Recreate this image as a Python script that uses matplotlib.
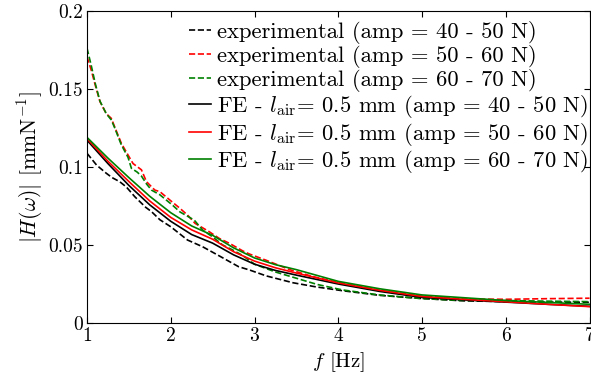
import numpy as np
import matplotlib
matplotlib.use("Agg")
import matplotlib.pyplot as plt

plt.rcParams['font.family'] = 'serif'
plt.rcParams['font.serif'] = ['cmr10']
plt.rcParams['mathtext.fontset'] = 'cm'
plt.rcParams['axes.unicode_minus'] = False

# experimental curves (frequency in Hz, |H| in mm/N)
f_exp_4050 = [1.0, 1.115, 1.23, 1.3, 1.39, 1.47, 1.57, 1.7, 1.77, 1.87, 2.0, 2.2, 2.38,
              2.58, 2.81, 2.94, 3.14, 3.46, 3.73, 4.05, 4.5, 5.0, 5.5, 6.0, 6.5, 7.0]
h_exp_4050 = [0.1086, 0.101, 0.0958, 0.093, 0.0904, 0.087, 0.0808, 0.074, 0.0712, 0.066,
              0.0615, 0.053, 0.0487, 0.0428, 0.0359, 0.0338, 0.0300, 0.0256, 0.023, 0.0205,
              0.0175, 0.0155, 0.0140, 0.0135, 0.0132, 0.0131]

f_exp_5060 = [1.0, 1.05, 1.1, 1.155, 1.23, 1.29, 1.33, 1.41, 1.49, 1.55, 1.6, 1.65, 1.71,
              1.81, 1.87, 1.99, 2.11, 2.2, 2.29, 2.46, 2.58, 2.7, 2.86, 2.94, 3.14, 3.42,
              3.7, 4.0, 4.5, 5.0, 5.5, 6.0, 6.5, 7.0]
h_exp_5060 = [0.1705, 0.162, 0.152, 0.1417, 0.134, 0.131, 0.1256, 0.115, 0.1075, 0.102,
              0.100, 0.098, 0.0904, 0.085, 0.084, 0.0786, 0.0733, 0.069, 0.0637, 0.0583,
              0.054, 0.0509, 0.046, 0.044, 0.040, 0.034, 0.0295, 0.0258, 0.0207, 0.0170,
              0.0152, 0.0150, 0.0154, 0.0157]

f_exp_6070 = [1.0, 1.05, 1.1, 1.155, 1.23, 1.29, 1.33, 1.41, 1.49, 1.53, 1.6, 1.65, 1.71,
              1.77, 1.87, 2.02, 2.11, 2.28, 2.38, 2.5, 2.62, 2.74, 2.86, 3.0, 3.25, 3.5,
              3.75, 4.05, 4.49, 4.96, 5.44, 6.0, 6.5, 7.0]
h_exp_6070 = [0.176, 0.165, 0.153, 0.142, 0.134, 0.130, 0.125, 0.114, 0.106, 0.099,
              0.0965, 0.094, 0.089, 0.085, 0.082, 0.0754, 0.071, 0.0658, 0.0594, 0.055,
              0.0498, 0.0466, 0.043, 0.0375, 0.0325, 0.0285, 0.0245, 0.021, 0.0178, 0.0156,
              0.0143, 0.0142, 0.0138, 0.0135]

# FE model, l_air = 0.5 mm
f_fe = [1.0, 1.25, 1.5, 1.75, 2.0, 2.25, 2.5, 2.75, 3.0, 3.25, 3.5, 4.0, 4.5, 5.0, 5.5, 6.0, 6.5, 7.0]
h_fe_4050 = [0.117, 0.102, 0.088, 0.0755, 0.065, 0.0565, 0.0510, 0.0435, 0.0375, 0.0335,
             0.0305, 0.0248, 0.0200, 0.0162, 0.0146, 0.0132, 0.0118, 0.0105]
h_fe_5060 = [0.118, 0.1035, 0.0905, 0.078, 0.0675, 0.0595, 0.0535, 0.0455, 0.0395, 0.0352,
             0.0318, 0.0255, 0.0207, 0.0168, 0.0150, 0.0134, 0.0118, 0.0103]
h_fe_6070 = [0.1188, 0.1055, 0.093, 0.081, 0.0705, 0.062, 0.056, 0.048, 0.0415, 0.0372,
             0.034, 0.0265, 0.0217, 0.0178, 0.0160, 0.0142, 0.0130, 0.0118]

amps = ['40 - 50', '50 - 60', '60 - 70']
colors = ['k', '#ff0000', '#008000']

fig = plt.figure(figsize=(5.91, 3.86), dpi=100)
ax = fig.add_axes([0.1472, 0.164, 0.8503, 0.8083])

exp_data = [(f_exp_4050, h_exp_4050), (f_exp_5060, h_exp_5060), (f_exp_6070, h_exp_6070)]
fe_data = [h_fe_4050, h_fe_5060, h_fe_6070]

for (fx, hx), amp, c in zip(exp_data, amps, colors):
    ax.plot(fx, hx, '--', color=c, lw=1.2, label=f'experimental (amp = {amp} N)')
for hx, amp, c in zip(fe_data, amps, colors):
    ax.plot(f_fe, hx, '-', color=c, lw=1.2,
            label=r'FE - $l_{\rm air}$= 0.5 mm (amp = ' + amp + ' N)')

ax.set_xlim(1, 7)
ax.set_ylim(0, 0.2)
ax.set_xticks([1, 2, 3, 4, 5, 6, 7])
ax.set_xticklabels(['1', '2', '3', '4', '5', '6', '7'])
ax.set_yticks([0, 0.05, 0.1, 0.15, 0.2])
ax.set_yticklabels(['0', '0.05', '0.1', '0.15', '0.2'])
ax.tick_params(direction='in', top=True, right=True, labelsize=14, length=4, pad=3)
for s in ax.spines.values():
    s.set_linewidth(0.8)

ax.set_xlabel(r'$f$ [Hz]', fontsize=15, labelpad=4)
ax.set_ylabel(r'$|H(\omega)|$ [mmN$^{-1}$]', fontsize=15.5, labelpad=2)

ax.legend(loc='upper right', bbox_to_anchor=(1.018, 1.0), frameon=False, fontsize=16.3,
          handlelength=1.0, handletextpad=0.25, labelspacing=0.04,
          borderaxespad=0.0, borderpad=0.45)

fig.savefig('out.png', dpi=100)
